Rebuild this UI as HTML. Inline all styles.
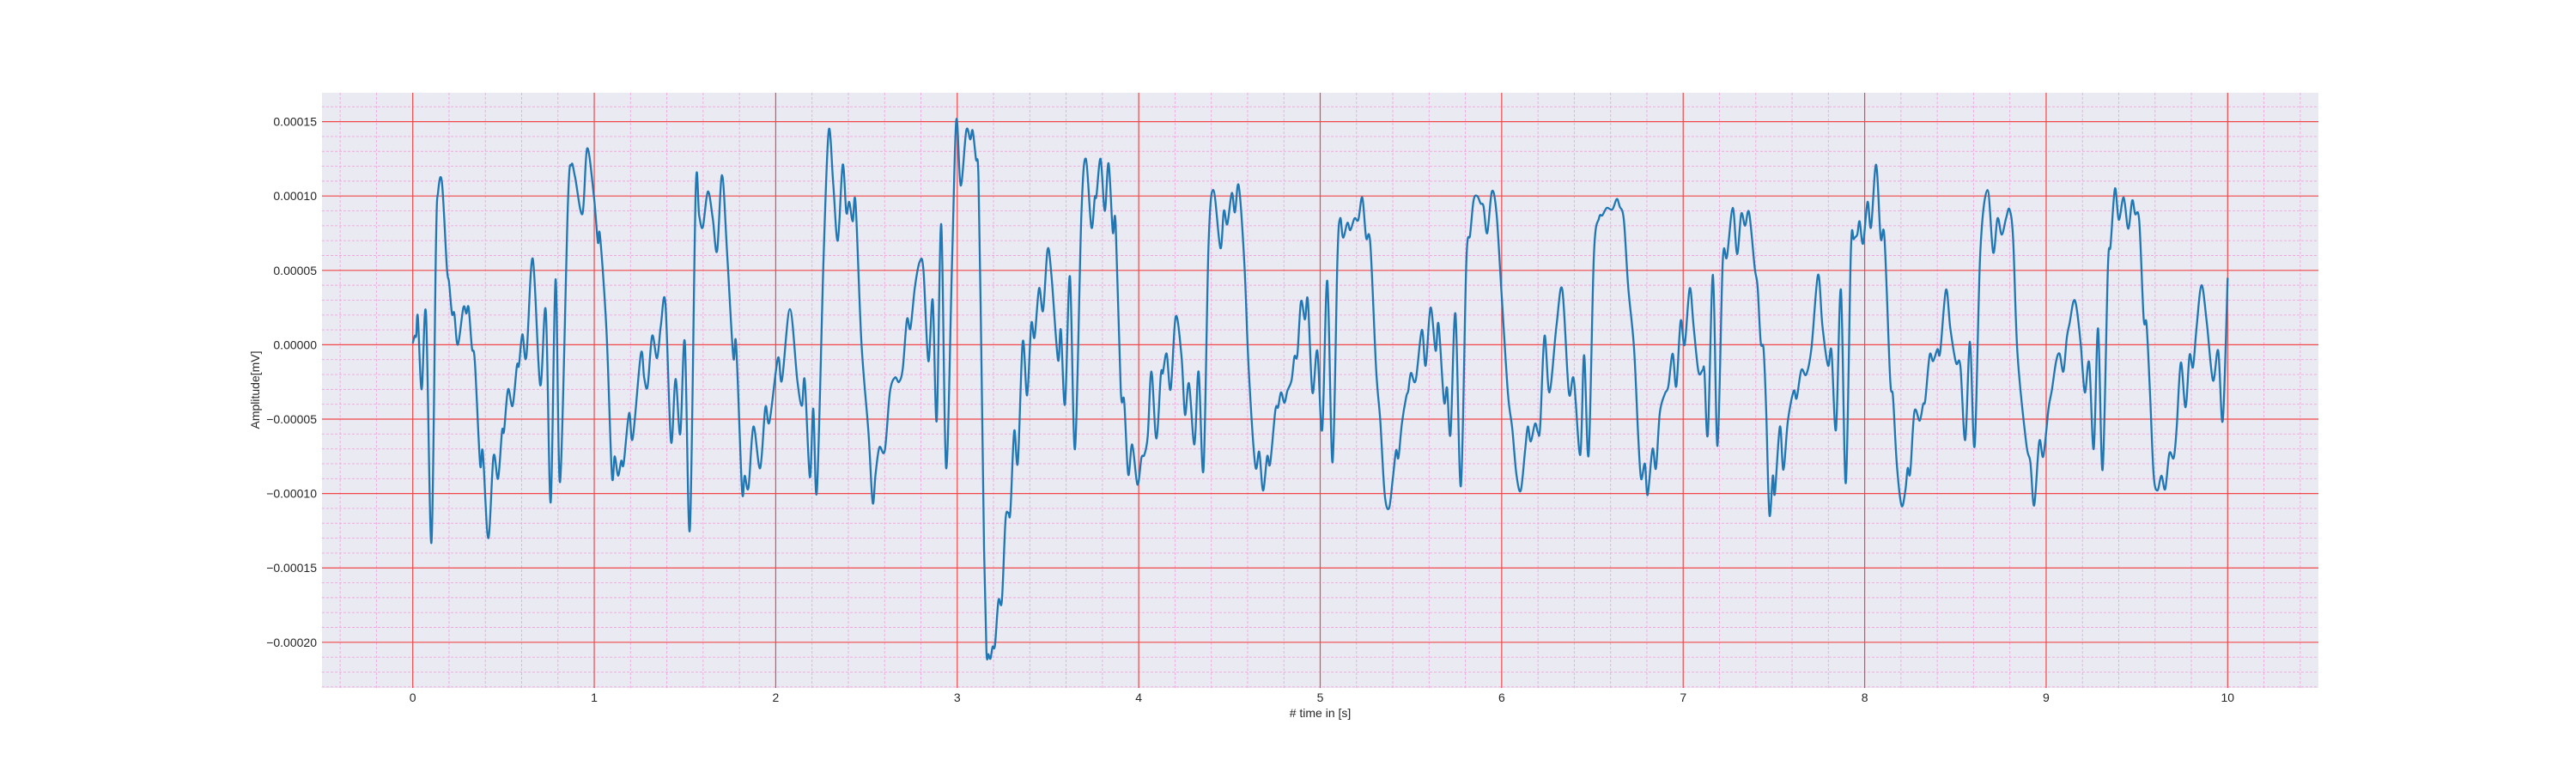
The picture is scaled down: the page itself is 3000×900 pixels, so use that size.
<!DOCTYPE html>
<html><head><meta charset="utf-8"><style>
html,body{margin:0;padding:0;background:#fff;}
svg{display:block;font-family:"Liberation Sans",Arial,sans-serif;}
</style></head><body>
<svg id="chart" width="3000" height="900" viewBox="0 0 3000 900" xmlns="http://www.w3.org/2000/svg">
<rect x="375" y="108" width="2325" height="693" fill="#EAEAF2"/>
<g id="grid-minor"></g>
<g id="grid-major"></g>
<g id="ticks" fill="#262626" font-size="14"></g>
<path id="signal" fill="none" stroke="#1f77b4" stroke-width="2.3" stroke-linejoin="round"/>
<text x="1537.5" y="835" font-size="14" fill="#262626" text-anchor="middle"># time in [s]</text>
<text x="0" y="0" font-size="14" fill="#262626" text-anchor="middle" transform="translate(302,454) rotate(-90)">Amplitude[mV]</text>
</svg>
<script>
const xTicks = [0,1,2,3,4,5,6,7,8,9,10];
const yTicks = [0.00015,0.0001,0.00005,0,-0.00005,-0.0001,-0.00015,-0.0002];
const yTickLabels = ["0.00015","0.00010","0.00005","0.00000","\u22120.00005","\u22120.00010","\u22120.00015","\u22120.00020"];
const times = [0,0.011,0.019,0.028,0.049,0.073,0.103,0.128,0.14,0.161,0.188,0.2,0.216,0.229,0.248,0.279,0.295,0.308,0.326,0.342,0.371,0.386,0.416,0.445,0.47,0.492,0.503,0.525,0.55,0.574,0.585,0.604,0.626,0.661,0.702,0.733,0.760,0.787,0.812,0.855,0.874,0.894,0.935,0.961,0.998,1.02,1.032,1.068,1.097,1.113,1.131,1.149,1.162,1.192,1.212,1.257,1.275,1.294,1.319,1.346,1.367,1.392,1.423,1.448,1.474,1.499,1.527,1.559,1.578,1.598,1.626,1.653,1.677,1.704,1.732,1.766,1.782,1.814,1.829,1.85,1.877,1.914,1.943,1.965,2.012,2.034,2.078,2.119,2.144,2.16,2.188,2.207,2.227,2.264,2.292,2.317,2.342,2.369,2.389,2.405,2.424,2.44,2.472,2.511,2.534,2.55,2.571,2.601,2.629,2.657,2.679,2.7,2.723,2.742,2.767,2.794,2.814,2.841,2.865,2.887,2.912,2.939,2.972,2.995,3.019,3.05,3.072,3.085,3.103,3.117,3.132,3.148,3.161,3.172,3.183,3.195,3.208,3.227,3.246,3.266,3.282,3.293,3.314,3.334,3.361,3.385,3.408,3.426,3.451,3.473,3.498,3.519,3.555,3.571,3.594,3.621,3.649,3.684,3.709,3.739,3.758,3.767,3.79,3.813,3.834,3.857,3.873,3.901,3.92,3.942,3.964,3.993,4.015,4.031,4.05,4.07,4.097,4.122,4.133,4.154,4.176,4.204,4.236,4.255,4.277,4.307,4.33,4.357,4.385,4.412,4.45,4.469,4.488,4.513,4.53,4.551,4.582,4.606,4.642,4.664,4.685,4.708,4.724,4.753,4.768,4.784,4.803,4.819,4.842,4.858,4.874,4.894,4.916,4.932,4.957,4.984,5.011,5.039,5.068,5.095,5.11,5.126,5.15,5.166,5.189,5.21,5.232,5.253,5.276,5.308,5.331,5.355,5.379,5.4,5.418,5.431,5.45,5.474,5.485,5.5,5.526,5.56,5.581,5.608,5.636,5.652,5.682,5.699,5.718,5.745,5.775,5.805,5.826,5.845,5.865,5.884,5.9,5.92,5.946,5.971,5.998,6.034,6.058,6.081,6.105,6.129,6.144,6.16,6.184,6.2,6.212,6.236,6.263,6.302,6.334,6.37,6.397,6.433,6.454,6.479,6.508,6.536,6.555,6.579,6.61,6.634,6.65,6.673,6.697,6.729,6.752,6.768,6.789,6.804,6.831,6.85,6.871,6.899,6.918,6.942,6.962,6.986,7.008,7.036,7.057,7.084,7.107,7.117,7.136,7.164,7.189,7.218,7.241,7.273,7.297,7.32,7.341,7.363,7.394,7.41,7.427,7.443,7.457,7.475,7.494,7.505,7.533,7.552,7.577,7.609,7.625,7.651,7.678,7.707,7.743,7.767,7.798,7.817,7.842,7.869,7.896,7.924,7.94,7.959,7.972,7.991,8.016,8.035,8.063,8.088,8.109,8.14,8.156,8.177,8.203,8.224,8.237,8.251,8.274,8.303,8.322,8.334,8.358,8.377,8.401,8.416,8.448,8.472,8.503,8.527,8.554,8.58,8.606,8.637,8.677,8.708,8.732,8.755,8.779,8.798,8.818,8.842,8.89,8.913,8.934,8.962,8.984,9.013,9.032,9.055,9.074,9.095,9.114,9.13,9.15,9.166,9.19,9.213,9.237,9.262,9.286,9.311,9.34,9.355,9.379,9.4,9.427,9.452,9.474,9.49,9.513,9.537,9.553,9.572,9.592,9.613,9.635,9.656,9.679,9.703,9.719,9.742,9.768,9.79,9.809,9.829,9.856,9.885,9.919,9.948,9.973,10.0];
const valuesE5 = [0.1,0.6,0.6,1.9,-3.0,2.1,-13.3,6.8,10.3,10.9,5.2,4.2,2.1,2.1,0,2.5,2.1,2.5,-0.2,-1.1,-8.0,-7.2,-13.0,-7.5,-9.0,-5.8,-5.8,-3.0,-4.1,-1.4,-1.4,0.7,-0.8,5.8,-2.7,2.3,-10.6,4.4,-9.2,9.5,12.1,11.3,8.8,13.2,10.0,6.9,7.3,0.8,-8.7,-7.5,-8.8,-7.8,-8.0,-4.6,-6.3,-0.6,-2.2,-2.8,0.6,-0.9,1.3,2.8,-6.5,-2.3,-6.0,0.2,-12.4,10.3,8.7,7.9,10.3,8.5,6.3,11.4,6.2,-0.8,0,-9.7,-8.8,-9.6,-5.5,-8.3,-4.2,-5.2,-0.9,-2.4,2.4,-2.4,-4.1,-2.4,-8.9,-4.3,-9.8,6.0,14.4,10.8,7.0,12.1,8.9,9.6,8.3,9.5,0.2,-5.9,-10.6,-8.7,-6.9,-7.1,-3.2,-2.2,-2.5,-1.6,1.7,1.1,3.9,5.6,5.0,-1.1,3.0,-5.1,8.1,-8.3,5.8,15.1,10.7,14.4,13.8,14.4,12.5,11.3,0.2,-13.8,-20.6,-20.8,-21.1,-20.3,-20.2,-17.2,-17.2,-11.8,-11.3,-11.2,-5.8,-7.9,0.2,-3.4,1.4,0.5,3.8,2.3,6.4,4.7,-1.0,1.0,-4.0,4.6,-7.0,8.7,12.5,7.9,9.9,10.0,12.5,9.0,12.2,7.6,8.1,-3.0,-3.8,-8.7,-6.7,-9.4,-7.6,-7.4,-6.1,-1.8,-6.3,-2.0,-1.9,-0.6,-3.0,1.9,-0.8,-4.7,-2.6,-6.7,-1.8,-8.4,6.8,10.4,6.5,9.0,8.1,10.2,8.9,10.7,5.5,-1.6,-8.1,-7.2,-9.8,-7.5,-8.0,-4.4,-4.2,-3.2,-3.9,-3.1,-2.4,-0.8,-0.7,2.9,1.7,3.0,-3.2,-0.4,-5.7,4.3,-7.9,5.8,8.5,7.2,8.2,7.7,8.5,8.4,9.9,7.2,6.8,-1.6,-5.1,-10.0,-11.0,-9.0,-7.1,-7.6,-5.3,-3.5,-3.1,-1.9,-2.4,1.0,-1.4,2.5,-0.4,1.4,-3.8,-2.9,-6.0,2.1,-9.5,5.5,7.4,9.7,10.0,9.5,9.3,7.5,10.3,8.9,3.7,-3.2,-5.6,-8.7,-9.8,-7.1,-5.5,-6.5,-5.3,-5.9,-5.5,0.6,-3.2,1.3,3.7,-3.2,-2.3,-7.4,-0.7,-7.4,6.0,8.5,8.7,9.2,9.1,9.8,9.3,8.4,3.9,-0.2,-6.1,-9.0,-8.0,-10.1,-7.0,-8.3,-4.6,-3.3,-2.8,-0.6,-2.8,1.6,0,3.8,1.3,-1.8,-1.7,-1.8,-6.0,4.7,-6.8,5.6,5.9,9.2,6.1,8.8,8.0,8.9,5.2,3.9,0.2,-0.3,-4.3,-11.4,-8.8,-10.0,-5.5,-8.4,-5.1,-3.1,-3.6,-1.7,-2.0,-0.2,4.7,1.3,-1.4,-0.4,-5.7,3.7,-9.3,6.3,7.1,7.4,8.3,6.8,9.6,7.9,12.1,7.2,7.2,-2.2,-3.5,-8.0,-10.8,-9.8,-8.3,-8.6,-4.5,-5.1,-4.0,-3.7,-0.7,-1.1,-0.3,-0.5,3.7,1.1,-1.2,-1.4,-6.4,0.2,-6.8,6.2,10.4,6.2,8.5,7.4,8.5,9.1,7.1,-0.6,-6.6,-7.9,-10.8,-6.5,-7.5,-4.3,-3.0,-1.1,-0.6,-1.8,0.5,1.5,2.9,2.6,0.1,-3.2,-1.2,-7.0,1.1,-8.4,5.1,6.7,10.5,8.4,9.9,7.8,9.7,8.8,8.3,1.8,1.4,-3.2,-8.7,-9.8,-8.8,-9.7,-7.3,-7.6,-5.6,-1.2,-4.2,-0.7,-1.5,1.2,4.0,1.5,-2.4,-0.4,-5.1,4.5];

const NS = "http://www.w3.org/2000/svg";
const L = 375, R = 2700, T = 108, B = 801;
const XMIN = -0.5, XMAX = 10.5, YMIN = -0.0002307, YMAX = 0.0001694;
function xs(t){ return L + (t - XMIN) / (XMAX - XMIN) * (R - L); }
function ys(v){ return T + (YMAX - v) / (YMAX - YMIN) * (B - T); }
function mk(tag, attrs, parent){
  const e = document.createElementNS(NS, tag);
  for (const k in attrs) e.setAttribute(k, attrs[k]);
  parent.appendChild(e);
  return e;
}
const gMinor = document.getElementById('grid-minor');
const gMajor = document.getElementById('grid-major');
const gTicks = document.getElementById('ticks');

// minor x grid
for (let i = -2; i <= 52; i++) {
  if (i % 5 === 0) continue;
  const t = i * 0.2;
  if (t <= XMIN || t >= XMAX) continue;
  const ln = mk('line', {x1: xs(t), x2: xs(t), y1: T, y2: B, stroke: '#f2a6de', 'stroke-width': 0.9, 'stroke-dasharray': '3,2'}, gMinor);
  
  
}
// minor y grid
for (let i = -23; i <= 16; i++) {
  if (i % 5 === 0) continue;
  const v = i * 0.00001;
  const ln = mk('line', {x1: L, x2: R, y1: ys(v), y2: ys(v), stroke: '#f2a6de', 'stroke-width': 0.9, 'stroke-dasharray': '3,2'}, gMinor);
  
  
}
// major grid + labels
xTicks.forEach(t => {
  const ln = mk('line', {x1: xs(t), x2: xs(t), y1: T, y2: B, stroke: '#f04848', 'stroke-width': 1.2}, gMajor);
  
  
  const tx = mk('text', {x: xs(t), y: 817, 'text-anchor': 'middle'}, gTicks);
  tx.textContent = String(t);
  
  
});
yTicks.forEach((v, i) => {
  const ln = mk('line', {x1: L, x2: R, y1: ys(v), y2: ys(v), stroke: '#f04848', 'stroke-width': 1.2}, gMajor);
  
  
  const tx = mk('text', {x: 369, y: ys(v) + 5, 'text-anchor': 'end'}, gTicks);
  tx.textContent = yTickLabels[i];
  
  
});

// signal path (Catmull-Rom through sampled points)
const pts = times.map((t, i) => [xs(t), ys(valuesE5[i] * 1e-5)]);
let d = 'M' + pts[0][0].toFixed(2) + ',' + pts[0][1].toFixed(2);
for (let i = 0; i < pts.length - 1; i++) {
  const p0 = pts[Math.max(0, i - 1)], p1 = pts[i], p2 = pts[i + 1], p3 = pts[Math.min(pts.length - 1, i + 2)];
  const c1x = p1[0] + (p2[0] - p0[0]) / 6, c1y = p1[1] + (p2[1] - p0[1]) / 6;
  const c2x = p2[0] - (p3[0] - p1[0]) / 6, c2y = p2[1] - (p3[1] - p1[1]) / 6;
  d += ' C' + c1x.toFixed(2) + ',' + c1y.toFixed(2) + ' ' + c2x.toFixed(2) + ',' + c2y.toFixed(2) + ' ' + p2[0].toFixed(2) + ',' + p2[1].toFixed(2);
}
document.getElementById('signal').setAttribute('d', d);
</script>
</body></html>
